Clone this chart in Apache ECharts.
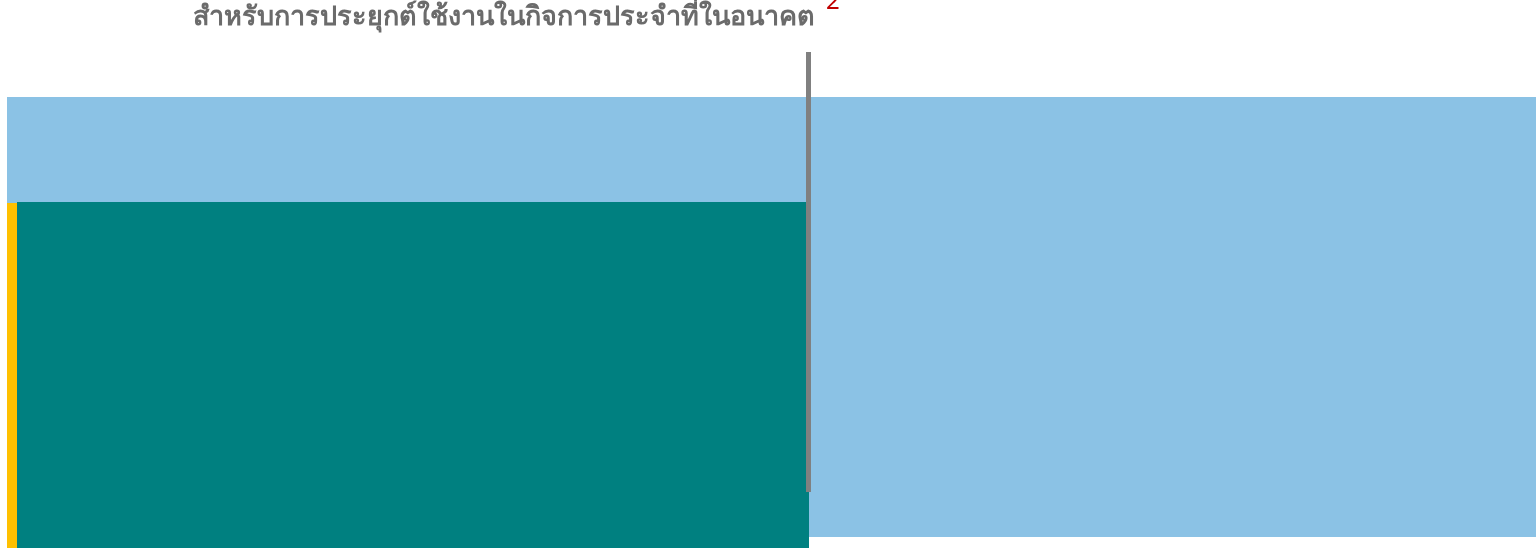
<!DOCTYPE html>
<html>
<head>
<meta charset="utf-8">
<script src="https://cdn.jsdelivr.net/npm/echarts@6/dist/echarts.min.js"></script>
<style>
html, body { margin: 0; padding: 0; background: #fff; }
#main { width: 1536px; height: 548px; }
</style>
</head>
<body>
<div id="main"></div>
<script>
// ข้อมูลบล็อก (หน่วยตามแกน)
var blockNames = ['พื้นหลัง', 'แถบเหลือง', 'บล็อกหลัก'];
var blockX0 = [0, 0, 10];
var blockX1 = [1529, 10, 802];
var blockY0 = [11, 0, 0];
var blockY1 = [451, 345, 346];
var divX = [801.5];
var divY0 = [56];
var divY1 = [496];

var titleText = 'สำหรับการประยุกต์ใช้งานในกิจการประจำที่ในอนาคต';
var noteText = '2';

var colors = ['#8bc2e5', '#ffc000', '#008080'];

var chart = echarts.init(document.getElementById('main'));

var blockData = [];
for (var i = 0; i < blockNames.length; i++) {
	blockData.push({ name: blockNames[i], value: [blockX0[i], blockX1[i], blockY0[i], blockY1[i]], itemStyle: { color: colors[i] } });
}
var divData = [];
for (var j = 0; j < divX.length; j++) {
	divData.push([divX[j], divY0[j], divY1[j]]);
}

var option = {
	animation: false,
	title: [{
		text: titleText,
		left: 188,
		top: -1,
		textStyle: { fontSize: 27, fontWeight: 'bold', color: '#6b6b6b', fontFamily: 'Noto Sans' }
	}, {
		text: noteText,
		left: 821,
		top: -15,
		textStyle: { fontSize: 24, fontWeight: 'normal', color: '#c00000', fontFamily: 'Noto Sans' }
	}],
	grid: { left: 7, right: 0, top: 52, bottom: 0 },
	xAxis: { type: 'value', min: 0, max: 1529, show: false },
	yAxis: { type: 'value', min: 0, max: 496, show: false },
	series: [{
		type: 'custom',
		name: 'blocks',
		data: blockData,
		renderItem: function(params, api) {
			var p0 = api.coord([api.value(0), api.value(2)]);
			var p1 = api.coord([api.value(1), api.value(3)]);
			return {
				type: 'rect',
				shape: { x: p0[0], y: p1[1], width: p1[0] - p0[0], height: p0[1] - p1[1] },
				style: { fill: api.visual('color') }
			};
		}
	}, {
		type: 'custom',
		name: 'divider',
		data: divData,
		renderItem: function(params, api) {
			var p0 = api.coord([api.value(0), api.value(1)]);
			var p1 = api.coord([api.value(0), api.value(2)]);
			return {
				type: 'rect',
				shape: { x: p0[0] - 2.5, y: p1[1], width: 5, height: p0[1] - p1[1] },
				style: { fill: '#808080' }
			};
		}
	}]
};
chart.setOption(option);
</script>
</body>
</html>
